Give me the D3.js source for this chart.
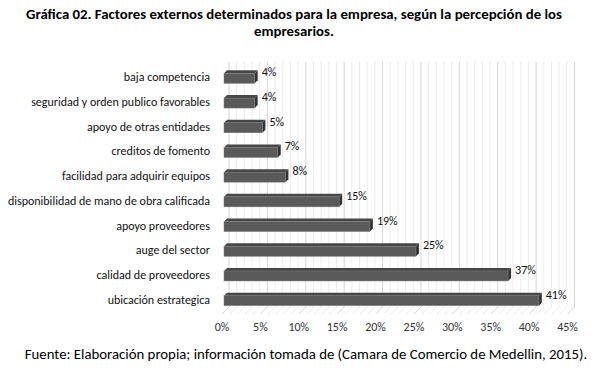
<!DOCTYPE html>
<html><head><meta charset="utf-8">
<script src="https://cdn.jsdelivr.net/npm/d3@7"></script>
<style>body{margin:0;background:#fff}svg{display:block}</style>
</head><body>
<script>
const categories = ["baja competencia","seguridad y orden publico favorables","apoyo de otras entidades","creditos de fomento","facilidad para adquirir equipos","disponibilidad de mano de obra calificada","apoyo proveedores","auge del sector","calidad de proveedores","ubicación estrategica"];
const values = [4,4,5,7,8,15,19,25,37,41];
const tickValues = [0,5,10,15,20,25,30,35,40,45];
const titleLines = ["Gráfica 02. Factores externos determinados para la empresa, según la percepción de los","empresarios."];
const footer = "Fuente: Elaboración propia; información tomada de (Camara de Comercio de Medellin, 2015).";

const W=594,H=375;
const font="Carlito, Calibri, Lato, sans-serif";
const svg=d3.select("body").append("svg").attr("width",W).attr("height",H);

const x=d3.scaleLinear().domain([0,45]).range([224,569.5]);
const y=d3.scalePoint().domain(categories).range([65,312]).padding(0.5);
const dx=7, dy=7;
const backTop=62, backBottom=307;

const g=svg.append("g");
d3.range(0,46).forEach(v=>{
  const major=v%5===0;
  g.append("line").attr("x1",x(v)+dx-2).attr("x2",x(v)+dx-2).attr("y1",backTop).attr("y2",backBottom)
    .attr("stroke",major?"#d4d4d4":"#ececec").attr("stroke-width",1);
  g.append("line").attr("x1",x(v)-2).attr("y1",backBottom+dy).attr("x2",x(v)+dx-2).attr("y2",backBottom)
    .attr("stroke",major?"#d4d4d4":"#ececec").attr("stroke-width",1);
});

const bh=10, ox=3, oy=3;
const bars=svg.append("g");
categories.forEach((c,i)=>{
  const v=values[i], x0=x(0), x1=x(v), yc=y(c), yt=yc-bh/2+1;
  bars.append("path").attr("d",`M${x0},${yt}L${x0+ox},${yt-oy}L${x1+ox},${yt-oy}L${x1},${yt}Z`).attr("fill","#474747");
  bars.append("path").attr("d",`M${x1},${yt}L${x1+ox},${yt-oy}L${x1+ox},${yt+bh-oy}L${x1},${yt+bh}Z`).attr("fill","#333");
  bars.append("rect").attr("x",x0).attr("y",yt).attr("width",x1-x0).attr("height",bh).attr("fill","#5a5a5a")
    .attr("stroke","#7a7a7a").attr("stroke-width",0.5);
  bars.append("text").attr("x",x1+ox+4).attr("y",yc-1).attr("font-family",font).attr("font-size",12)
    .attr("fill","#111").text(v+"%");
  svg.append("text").attr("x",210).attr("y",yc+4).attr("text-anchor","end").attr("font-family",font)
    .attr("font-size",12).attr("fill","#111").text(c);
});

tickValues.forEach(t=>{
  svg.append("text").attr("x",x(t)-2).attr("y",331).attr("text-anchor","middle").attr("font-family",font)
    .attr("font-size",12).attr("fill","#333").text(t+"%");
});

titleLines.forEach((t,i)=>{
  svg.append("text").attr("x",294).attr("y",19+i*17).attr("text-anchor","middle").attr("font-family",font)
    .attr("font-weight","bold").attr("font-size",14.8).attr("fill","#000").text(t);
});
svg.append("text").attr("x",306).attr("y",359).attr("text-anchor","middle").attr("font-family",font)
  .attr("font-size",14.8).attr("fill","#000").text(footer);
</script>
</body></html>
